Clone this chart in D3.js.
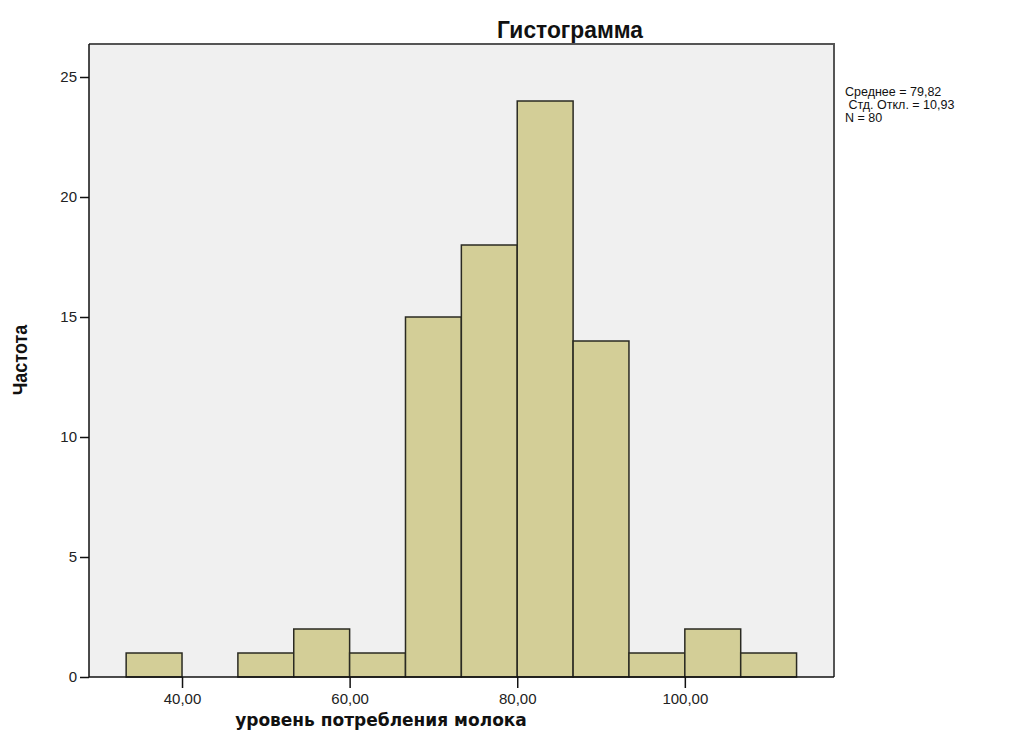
<!DOCTYPE html>
<html><head><meta charset="utf-8">
<script src="https://cdn.jsdelivr.net/npm/d3@7"></script>
<style>body{margin:0;background:#fff}</style>
</head><body>
<svg id="c" width="1021" height="747"></svg>
<script>
const binEdges = [33.333, 40, 46.667, 53.333, 60, 66.667, 73.333, 80, 86.667, 93.333, 100, 106.667, 113.333];
const counts = [1, 0, 1, 2, 1, 15, 18, 24, 14, 1, 2, 1];
const xTicks = [40, 60, 80, 100];
const yTicks = [0, 5, 10, 15, 20, 25];
const stats = ["Среднее = 79,82", " Стд. Откл. = 10,93", "N = 80"];
const title = "Гистограмма";
const xTitle = "уровень потребления молока";
const yTitle = "Частота";

const bins = counts.map((c, i) => ({x0: binEdges[i], x1: binEdges[i+1], n: c}));

const svg = d3.select("#c");
const L = 89, R = 834, T = 44, B = 677;
const x = d3.scaleLinear().domain([28.9, 117.8]).range([L, R]);
const y = d3.scaleLinear().domain([0, 26.375]).range([B, T]);

svg.append("rect").attr("x", L).attr("y", T).attr("width", R - L).attr("height", B - T)
  .attr("fill", "#f0f0f0");

svg.append("g").selectAll("rect").data(bins.filter(d => d.n > 0)).join("rect")
  .attr("x", d => x(d.x0)).attr("y", d => y(d.n))
  .attr("width", d => x(d.x1) - x(d.x0)).attr("height", d => y(0) - y(d.n))
  .attr("fill", "#d3ce97").attr("stroke", "#2a2a22").attr("stroke-width", 1.5);

svg.append("path").attr("d", `M${L},${T}H${R}V${B}`).attr("fill", "none")
  .attr("stroke", "#555").attr("stroke-width", 2);

const fontTick = "Arial, 'Liberation Sans', sans-serif";
const xAxis = d3.axisBottom(x).tickValues(xTicks).tickSize(11).tickPadding(5)
  .tickFormat(d => d3.format(".2f")(d).replace(".", ","));
const gx = svg.append("g").attr("transform", `translate(0,${B})`).call(xAxis);
gx.select(".domain").attr("d", `M${L},0H${R}`).attr("stroke", "#111").attr("stroke-width", 1.5);
gx.selectAll(".tick line").attr("stroke", "#111").attr("stroke-width", 1.5);
gx.selectAll("text").attr("font-family", fontTick).attr("font-size", 15).attr("fill", "#222");

const yAxis = d3.axisLeft(y).tickValues(yTicks).tickSize(9).tickPadding(3);
const gy = svg.append("g").attr("transform", `translate(${L},0)`).call(yAxis);
gy.select(".domain").attr("d", `M0,${B}V${T}`).attr("stroke", "#111").attr("stroke-width", 1.5);
gy.selectAll(".tick line").attr("stroke", "#111").attr("stroke-width", 1.5);
gy.selectAll("text").attr("font-family", fontTick).attr("font-size", 15).attr("fill", "#222");

svg.append("text").attr("transform", "translate(570,38) scale(0.95,1)").attr("text-anchor", "middle")
  .attr("font-family", "'Liberation Sans Narrow', 'Arial Narrow', 'Liberation Sans', sans-serif")
  .attr("font-weight", "bold").attr("font-size", 24).attr("fill", "#111").text(title);

svg.append("text").attr("transform", "translate(27,360) rotate(-90) scale(0.9,1)").attr("text-anchor", "middle")
  .attr("font-family", "'Liberation Sans Narrow', 'Arial Narrow', 'Liberation Sans', sans-serif")
  .attr("font-weight", "bold").attr("font-size", 20).attr("fill", "#111").text(yTitle);

svg.append("text").attr("x", 381).attr("y", 726).attr("text-anchor", "middle")
  .attr("font-family", "'DejaVu Sans', Verdana, sans-serif")
  .attr("font-weight", "bold").attr("font-size", 17).attr("fill", "#111").text(xTitle);

svg.append("g").selectAll("text").data(stats).join("text")
  .attr("x", 845).attr("y", (d, i) => 96 + i * 13)
  .attr("xml:space", "preserve").style("white-space", "pre")
  .attr("font-family", fontTick).attr("font-size", 12.5).attr("fill", "#111").text(d => d);
</script>
</body></html>
